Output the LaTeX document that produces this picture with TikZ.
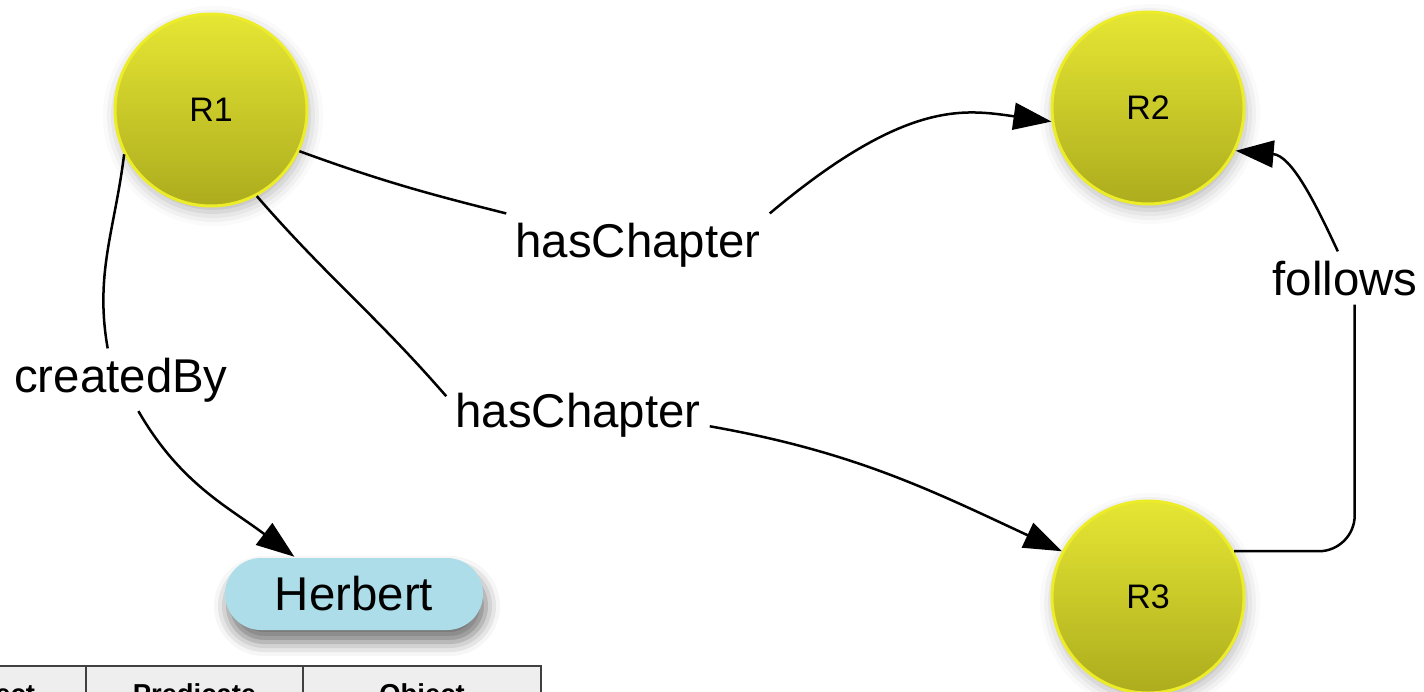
\documentclass[tikz,border=0pt]{standalone}
\usepackage{fontspec}
\setmainfont{Liberation Sans}
\usetikzlibrary{arrows.meta,shadows.blur}
\definecolor{balltop}{RGB}{230,230,52}
\definecolor{ballbottom}{RGB}{172,172,30}
\definecolor{ballrim}{RGB}{236,236,40}
\definecolor{litblue}{RGB}{172,221,232}
\definecolor{headgray}{RGB}{237,238,237}
\begin{document}
\begin{tikzpicture}[x=0.5pt,y=-0.5pt,line width=1.25pt,
  res/.style={circle,minimum size=96pt,inner sep=0pt,draw=ballrim,line width=1.5pt,
    top color=balltop,bottom color=ballbottom,
    blur shadow={shadow xshift=1pt,shadow yshift=-3pt,shadow blur radius=7pt,shadow opacity=30},
    font=\fontsize{17}{20}\selectfont},
  lit/.style={rectangle,rounded corners=18pt,minimum width=129pt,minimum height=36pt,fill=litblue,
    blur shadow={shadow xshift=1.5pt,shadow yshift=-6pt,shadow blur radius=7pt,shadow opacity=55},
    font=\fontsize{23.7}{28}\selectfont},
  lbl/.style={inner sep=4pt,anchor=base,font=\fontsize{23.7}{28}\selectfont},
  cell/.style={draw=black!75,line width=0.75pt,fill=headgray,minimum height=30pt,
    text height=10pt,text depth=3pt,font=\fontsize{13.7}{16}\selectfont\bfseries},
  arr/.style={-{Triangle[length=19pt,width=13.5pt]}}]
  \useasboundingbox (0,0) rectangle (1424,691);
  \node[res] (R1) at (211,110) {R1};
  \node[res] (R2) at (1148,108) {R2};
  \node[res] (R3) at (1148,597) {R3};
  \node[lit] (herbert) at (354,594) {Herbert};
  \node[lbl] (createdby) at (121,392) {createdBy};
  \node[lbl] (chapA) at (638,257) {hasChapter};
  \node[lbl] (chapB) at (578,427) {hasChapter};
  \node[lbl] (follows) at (1345,295) {follows};
  \node[cell,minimum width=100.5pt] (subject) at (-14.5,696) {Subject};
  \node[cell,minimum width=108.5pt] (predicate) at (194.5,696) {Predicate};
  \node[cell,minimum width=119pt] (object) at (422,696) {Object};
  \draw (R1.207) to[out=-97,in=100] (createdby.113);
  \draw[arr] (createdby.-61) to[out=-60,in=143] (herbert.148);
  \draw (R1.-25) to[out=-20,in=166] (chapA.north west);
  \draw[arr] (chapA.north east) .. controls +(40:89pt) and +(172:44pt) .. (R2.188);
  \draw (R1.-62) to[out=-49,in=131] (chapB.172);
  \draw[arr] (chapB.-5) to[out=-10,in=155] (R3.152);
  \draw[rounded corners=18pt] (R3.28) -| (follows.-70);
  \draw[arr] (follows.105) to[out=115,in=-5] (R2.-26);
\end{tikzpicture}
\end{document}
